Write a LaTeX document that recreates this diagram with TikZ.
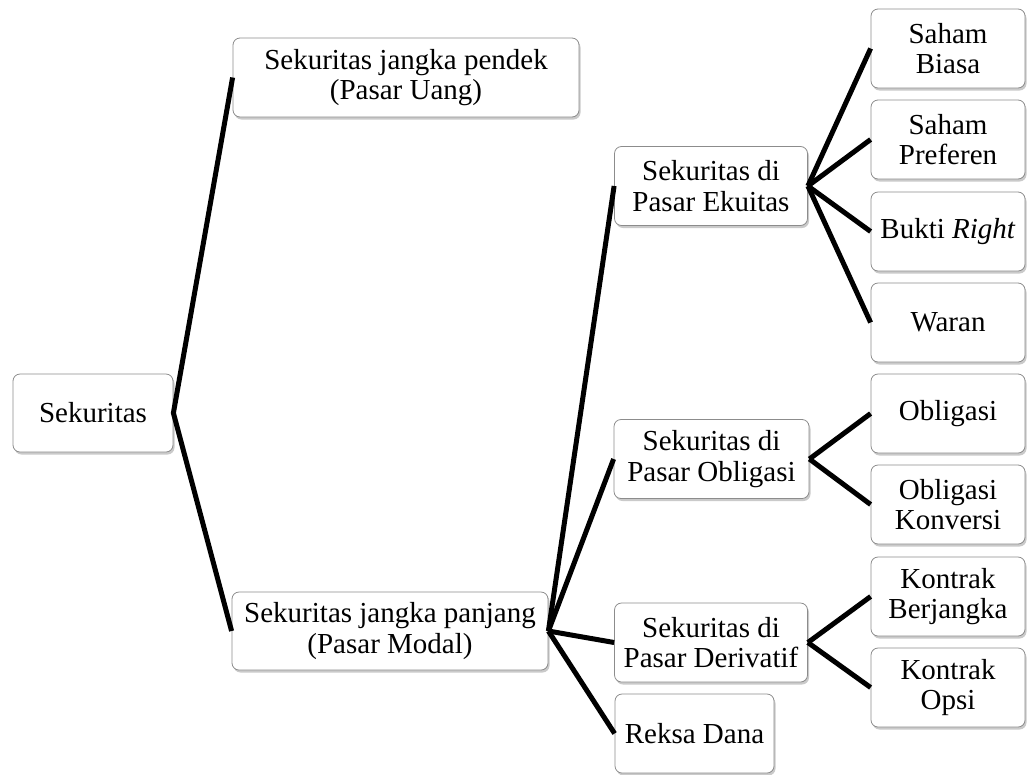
\documentclass[tikz,border=0pt]{standalone}
\usepackage{fontspec}
\setmainfont{Liberation Serif}
\usetikzlibrary{shadows}
\begin{document}
\begin{tikzpicture}[x=1pt,y=-1pt,
  box/.style={draw=black!45, line width=0.8pt, rounded corners=7pt, fill=white,
    align=center, inner sep=0pt, font=\fontsize{29pt}{30.5pt}\selectfont,
    drop shadow={shadow xshift=1.5pt, shadow yshift=-2.5pt, opacity=0.35, fill=black!60}},
  rbox/.style={box, minimum width=154pt, minimum height=79pt},
  mbox/.style={box, minimum width=193pt, minimum height=79pt},
  conn/.style={line width=5pt, line join=miter}]
\useasboundingbox (0,0) rectangle (1027,774);
% level 0
\node[box, minimum width=160pt, minimum height=78pt] (sek) at (93,413) {Sekuritas};
% level 1
\node[box, minimum width=346pt, minimum height=79pt] (pendek) at (406,77.5) {Sekuritas jangka pendek\\(Pasar Uang)};
\node[box, minimum width=316pt, minimum height=78pt] (panjang) at (390,631) {Sekuritas jangka panjang\\(Pasar Modal)};
% level 2
\node[mbox] (ekuitas) at (711,186) {Sekuritas di\\Pasar Ekuitas};
\node[mbox, minimum width=195pt] (oblig) at (711.5,459) {Sekuritas di\\Pasar Obligasi};
\node[mbox] (deriv) at (711,642.5) {Sekuritas di\\Pasar Derivatif};
\node[box, minimum width=159pt, minimum height=79pt] (reksa) at (694.5,733.5) {Reksa Dana};
% level 3
\node[rbox] (biasa) at (948,48.5) {Saham\\Biasa};
\node[rbox] (preferen) at (948,139.5) {Saham\\Preferen};
\node[rbox] (bukti) at (948,231.5) {Bukti \textit{Right}};
\node[rbox] (waran) at (948,322.5) {Waran};
\node[rbox] (obl) at (948,413.5) {Obligasi};
\node[rbox] (konv) at (948,504.5) {Obligasi\\Konversi};
\node[rbox] (berj) at (948,596.5) {Kontrak\\Berjangka};
\node[rbox] (opsi) at (948,687.5) {Kontrak\\Opsi};
% connectors
\draw[conn] (pendek.west) -- (sek.east) -- (panjang.west);
\draw[conn] (panjang.east) -- (ekuitas.west);
\draw[conn] (panjang.east) -- (oblig.west);
\draw[conn] (panjang.east) -- (deriv.west);
\draw[conn] (panjang.east) -- (reksa.west);
\draw[conn] (ekuitas.east) -- (biasa.west);
\draw[conn] (ekuitas.east) -- (preferen.west);
\draw[conn] (ekuitas.east) -- (bukti.west);
\draw[conn] (ekuitas.east) -- (waran.west);
\draw[conn] (oblig.east) -- (obl.west);
\draw[conn] (oblig.east) -- (konv.west);
\draw[conn] (deriv.east) -- (berj.west);
\draw[conn] (deriv.east) -- (opsi.west);
\end{tikzpicture}
\end{document}
